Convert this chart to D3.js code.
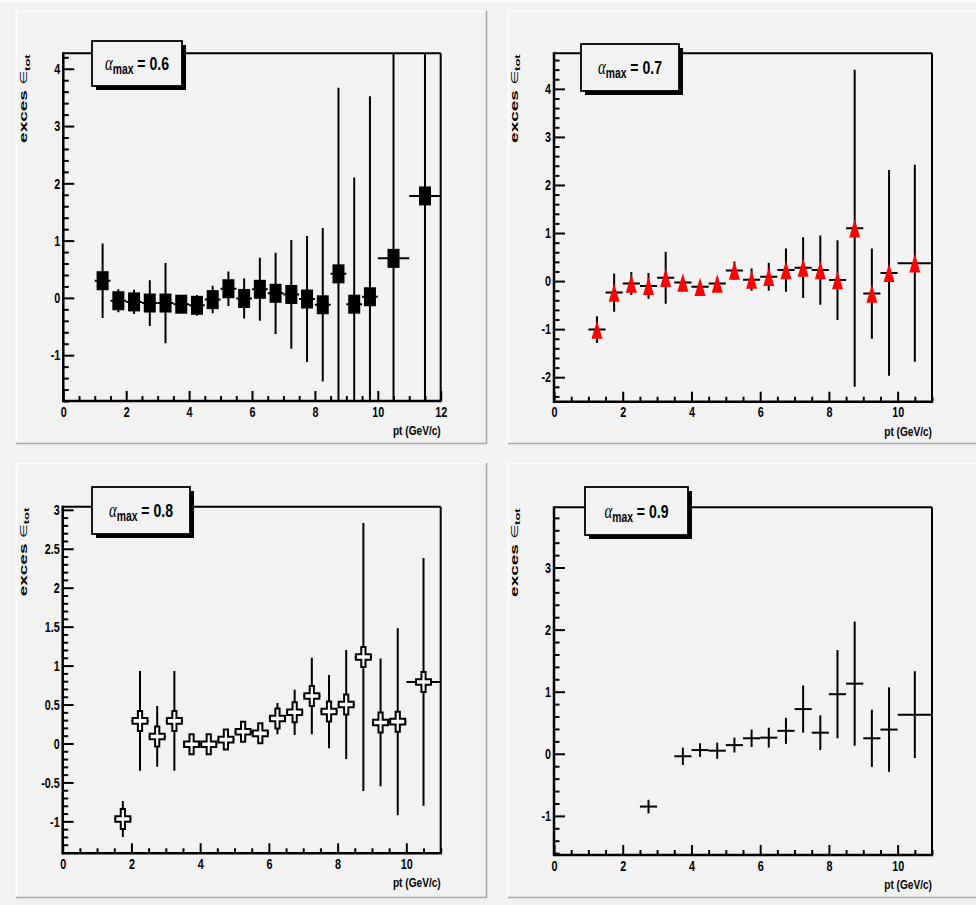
<!DOCTYPE html>
<html><head><meta charset="utf-8">
<script src="https://cdn.jsdelivr.net/npm/d3@7"></script>
<style>body{margin:0;background:#f2f2f2;} svg{display:block;}</style>
</head><body>
<svg id="c" width="976" height="905"></svg>
<script>
// ---------- data ----------
const labels = ["0.6", "0.7", "0.8", "0.9"];

const pt06   = [1.25,1.75,2.25,2.75,3.25,3.75,4.25,4.75,5.25,5.75,6.25,6.75,7.25,7.75,8.25,8.75,9.25,9.75,10.5,11.5];
const val06  = [0.30,-0.05,-0.07,-0.09,-0.09,-0.11,-0.13,-0.03,0.16,-0.01,0.15,0.08,0.06,-0.02,-0.12,0.42,-0.11,0.02,0.69,1.78];
const err06  = [0.65,0.20,0.21,0.40,0.70,0.10,0.18,0.24,0.30,0.35,0.55,0.71,0.95,1.10,1.34,3.25,2.21,3.50,6.0,6.5];
const xerr06 = [0.25,0.25,0.25,0.25,0.25,0.25,0.25,0.25,0.25,0.25,0.25,0.25,0.25,0.25,0.25,0.25,0.25,0.25,0.5,0.5];

const pt07   = [1.25,1.75,2.25,2.75,3.25,3.75,4.25,4.75,5.25,5.75,6.25,6.75,7.25,7.75,8.25,8.75,9.25,9.75,10.5];
const val07  = [-1.01,-0.24,-0.05,-0.10,0.07,-0.03,-0.12,-0.05,0.22,0.03,0.09,0.23,0.28,0.23,0.02,1.10,-0.26,0.17,0.37];
const err07  = [0.28,0.40,0.24,0.27,0.54,0.10,0.10,0.12,0.19,0.23,0.29,0.45,0.63,0.72,0.83,3.30,0.94,2.14,2.05];
const xerr07 = [0.25,0.25,0.25,0.25,0.25,0.25,0.25,0.25,0.25,0.25,0.25,0.25,0.25,0.25,0.25,0.25,0.25,0.25,0.5];

const pt08   = [1.75,2.25,2.75,3.25,3.75,4.25,4.75,5.25,5.75,6.25,6.75,7.25,7.75,8.25,8.75,9.25,9.75,10.5];
const val08  = [-0.97,0.29,0.09,0.29,-0.01,-0.01,0.05,0.15,0.13,0.32,0.40,0.61,0.41,0.50,1.11,0.27,0.28,0.79];
const err08  = [0.23,0.64,0.39,0.64,0.10,0.10,0.10,0.10,0.10,0.20,0.29,0.49,0.47,0.70,1.72,0.82,1.20,1.59];
const xerr08 = [0.25,0.25,0.25,0.25,0.25,0.25,0.25,0.25,0.25,0.25,0.25,0.25,0.25,0.25,0.25,0.25,0.25,0.5];

const pt09   = [2.75,3.75,4.25,4.75,5.25,5.75,6.25,6.75,7.25,7.75,8.25,8.75,9.25,9.75,10.5];
const val09  = [-0.85,-0.04,0.06,0.05,0.14,0.25,0.26,0.37,0.72,0.34,0.96,1.13,0.25,0.39,0.63];
const err09  = [0.11,0.14,0.11,0.13,0.12,0.14,0.16,0.21,0.38,0.28,0.71,1.00,0.46,0.68,0.70];
const xerr09 = [0.25,0.25,0.25,0.25,0.25,0.25,0.25,0.25,0.25,0.25,0.25,0.25,0.25,0.25,0.5];

const xTicks12 = [0,2,4,6,8,10,12];
const xTicks11 = [0,2,4,6,8,10];
const yTicks06 = [-1,0,1,2,3,4];
const yTicks07 = [-2,-1,0,1,2,3,4];
const yTicks08 = [-1,-0.5,0,0.5,1,1.5,2,2.5,3];
const yTicks09 = [-1,0,1,2,3];

const xTitle = "pt (GeV/c)";

// ---------- layout ----------
const FONT = "'Liberation Sans', Arial, Helvetica, sans-serif";
const panels = [
  {pad:[16,11,471,433],  frame:[63.3,53.3,440.7,401],  xd:[0,12], yd:[-1.8,4.27],  xt:xTicks12, yt:yTicks06, yMinor:0.2,
   pt:pt06, val:val06, err:err06, xerr:xerr06, marker:"square",   leg:[92,41,90,45],   label:labels[0]},
  {pad:[508,11,471,433], frame:[554,53.3,932,401.7],   xd:[0,11], yd:[-2.51,4.74], xt:xTicks11, yt:yTicks07, yMinor:0.2,
   pt:pt07, val:val07, err:err07, xerr:xerr07, marker:"triangle", leg:[581,44,98,47],  label:labels[1]},
  {pad:[16,463,471,435], frame:[62.7,506.7,440.7,853.3], xd:[0,11], yd:[-1.41,3.04], xt:xTicks11, yt:yTicks08, yMinor:0.1,
   pt:pt08, val:val08, err:err08, xerr:xerr08, marker:"cross",    leg:[92,487,98,47],  label:labels[2]},
  {pad:[508,463,471,435], frame:[554,507.3,932,855],   xd:[0,11], yd:[-1.63,3.97], xt:xTicks11, yt:yTicks09, yMinor:0.2,
   pt:pt09, val:val09, err:err09, xerr:xerr09, marker:"none",     leg:[585,487,103,48], label:labels[3]}
];

const svg = d3.select("#c");
svg.append("rect").attr("x",0).attr("y",0).attr("width",976).attr("height",905).attr("fill","#f2f2f2");
svg.append("rect").attr("x",0).attr("y",0).attr("width",976).attr("height",3).attr("fill","#fbfbfb");

function range(lo, hi, step){
  const out=[]; const i0=Math.ceil(lo/step-1e-9), i1=Math.floor(hi/step+1e-9);
  for(let i=i0;i<=i1;i++) out.push(+(i*step).toFixed(6));
  return out;
}

panels.forEach((P, pi) => {
  const [px,py,pw,ph] = P.pad;
  const [fl,ft,fr,fb] = P.frame;
  const g = svg.append("g");
  // pad with bevel
  g.append("rect").attr("x",px).attr("y",py).attr("width",pw).attr("height",ph).attr("fill","#f2f2f2");
  g.append("line").attr("x1",px).attr("y1",py+0.5).attr("x2",px+pw).attr("y2",py+0.5).attr("stroke","#fdfdfd").attr("stroke-width",1.5);
  g.append("line").attr("x1",px+0.5).attr("y1",py).attr("x2",px+0.5).attr("y2",py+ph).attr("stroke","#fdfdfd").attr("stroke-width",1.5);
  g.append("line").attr("x1",px).attr("y1",py+ph-0.5).attr("x2",px+pw).attr("y2",py+ph-0.5).attr("stroke","#a9a9a9").attr("stroke-width",1.5);
  g.append("line").attr("x1",px+pw-0.5).attr("y1",py).attr("x2",px+pw-0.5).attr("y2",py+ph).attr("stroke","#a9a9a9").attr("stroke-width",1.5);

  const x = d3.scaleLinear().domain(P.xd).range([fl,fr]);
  const y = d3.scaleLinear().domain(P.yd).range([fb,ft]);

  // minor ticks
  const xMinor = range(P.xd[0],P.xd[1],0.5).filter(v=>!P.xt.includes(v));
  const yMinor = range(P.yd[0],P.yd[1],P.yMinor).filter(v=>!P.yt.some(t=>Math.abs(t-v)<1e-6));

  const axB = g.append("g").attr("transform",`translate(0,${fb})`)
    .call(d3.axisBottom(x).tickValues(P.xt).tickSize(-10).tickSizeOuter(0).tickPadding(5).tickFormat(d=>String(d)));
  g.append("g").attr("transform",`translate(0,${fb})`)
    .call(d3.axisBottom(x).tickValues(xMinor).tickSize(-5).tickSizeOuter(0).tickFormat(""));
  const axL = g.append("g").attr("transform",`translate(${fl},0)`)
    .call(d3.axisLeft(y).tickValues(P.yt).tickSize(-11).tickSizeOuter(0).tickPadding(4).tickFormat(d=>String(d)));
  g.append("g").attr("transform",`translate(${fl},0)`)
    .call(d3.axisLeft(y).tickValues(yMinor).tickSize(-5.5).tickSizeOuter(0).tickFormat(""));
  g.selectAll(".domain").remove();
  g.selectAll(".tick line").attr("stroke","#000").attr("stroke-width",2);
  axB.selectAll("text").attr("font-family",FONT).attr("font-weight","bold").attr("font-size",15).attr("fill","#000")
    .attr("transform","scale(0.72,1)");
  axL.selectAll("text").attr("font-family",FONT).attr("font-weight","bold").attr("font-size",15).attr("fill","#000")
    .attr("x",-3/0.72).attr("transform","scale(0.72,1)");

  // frame
  g.append("line").attr("x1",fl).attr("y1",ft).attr("x2",fr).attr("y2",ft).attr("stroke","#000").attr("stroke-width",2);
  g.append("line").attr("x1",fr).attr("y1",ft).attr("x2",fr).attr("y2",fb).attr("stroke","#000").attr("stroke-width",2);
  g.append("line").attr("x1",fl).attr("y1",ft-1).attr("x2",fl).attr("y2",fb+1).attr("stroke","#000").attr("stroke-width",2.5);
  g.append("line").attr("x1",fl-1).attr("y1",fb).attr("x2",fr+1).attr("y2",fb).attr("stroke","#000").attr("stroke-width",2.5);

  // titles
  g.append("text").attr("transform",`translate(${fr},${fb+34}) scale(0.75,1)`).attr("text-anchor","end")
    .attr("font-family",FONT).attr("font-weight","bold").attr("font-size",13.5).text(xTitle);
  const yt = g.append("text").attr("transform",`translate(${fl-36},${ft+1}) scale(0.62,1) rotate(-90)`)
    .attr("text-anchor","end").attr("font-family",FONT).attr("font-size",19);
  yt.append("tspan").attr("font-weight","bold").text("exces ");
  yt.append("tspan").attr("font-weight","normal").attr("font-size",16).attr("font-family","'DejaVu Sans', sans-serif").text("\u2208");
  yt.append("tspan").attr("font-weight","bold").attr("font-size",13).attr("dy",4).text("tot");

  // data
  const cid = "clip"+pi;
  g.append("clipPath").attr("id",cid).append("rect").attr("x",fl).attr("y",ft).attr("width",fr-fl).attr("height",fb-ft);
  const dg = g.append("g").attr("clip-path",`url(#${cid})`);
  const pts = P.pt.map((p,i)=>({p, v:P.val[i], e:P.err[i], xe:P.xerr[i]}));
  dg.selectAll(".ev").data(pts).join("line")
    .attr("x1",d=>x(d.p)).attr("x2",d=>x(d.p)).attr("y1",d=>y(d.v-d.e)).attr("y2",d=>y(d.v+d.e))
    .attr("stroke","#000").attr("stroke-width",2);
  dg.selectAll(".eh").data(pts).join("line")
    .attr("x1",d=>x(d.p-d.xe)).attr("x2",d=>x(d.p+d.xe)).attr("y1",d=>y(d.v)).attr("y2",d=>y(d.v))
    .attr("stroke","#000").attr("stroke-width",2);

  const mg = g.append("g");
  if (P.marker==="square"){
    mg.selectAll("rect").data(pts).join("rect")
      .attr("x",d=>x(d.p)-6).attr("y",d=>y(d.v)-9.5).attr("width",12).attr("height",19).attr("fill","#000");
  } else if (P.marker==="triangle"){
    mg.selectAll("path").data(pts).join("path")
      .attr("d",d=>{const cx=x(d.p), cy=y(d.v); return `M${cx-5.5},${cy+9.2}L${cx+5.5},${cy+9.2}L${cx},${cy-9.2}Z`;})
      .attr("fill","#ff0000");
  } else if (P.marker==="cross"){
    mg.selectAll("path").data(pts).join("path")
      .attr("d",d=>{const cx=x(d.p), cy=y(d.v), w=7.5, h=10, a=2.1, b=2.8;
        return `M${cx-a},${cy-h}H${cx+a}V${cy-b}H${cx+w}V${cy+b}H${cx+a}V${cy+h}H${cx-a}V${cy+b}H${cx-w}V${cy-b}H${cx-a}Z`;})
      .attr("fill","#ffffff").attr("stroke","#000").attr("stroke-width",2);
  }

  // legend box
  const [lx,ly,lw,lh] = P.leg;
  g.append("rect").attr("x",lx+4).attr("y",ly+4).attr("width",lw).attr("height",lh).attr("fill","#000");
  g.append("rect").attr("x",lx).attr("y",ly).attr("width",lw).attr("height",lh).attr("fill","#f2f2f2")
    .attr("stroke","#000").attr("stroke-width",1.8);
  const lt = g.append("text").attr("transform",`translate(${lx+lw/2},${ly+lh/2+6.5}) scale(0.74,1)`)
    .attr("text-anchor","middle").attr("font-family",FONT).attr("font-size",19);
  lt.append("tspan").attr("font-family","'Liberation Serif', serif").attr("font-style","italic").attr("font-size",20).text("\u03b1");
  lt.append("tspan").attr("font-weight","bold").attr("font-size",14).attr("dy",4).text("max");
  lt.append("tspan").attr("font-weight","bold").attr("dy",-4).text(" = " + P.label);
});
</script>
</body></html>
